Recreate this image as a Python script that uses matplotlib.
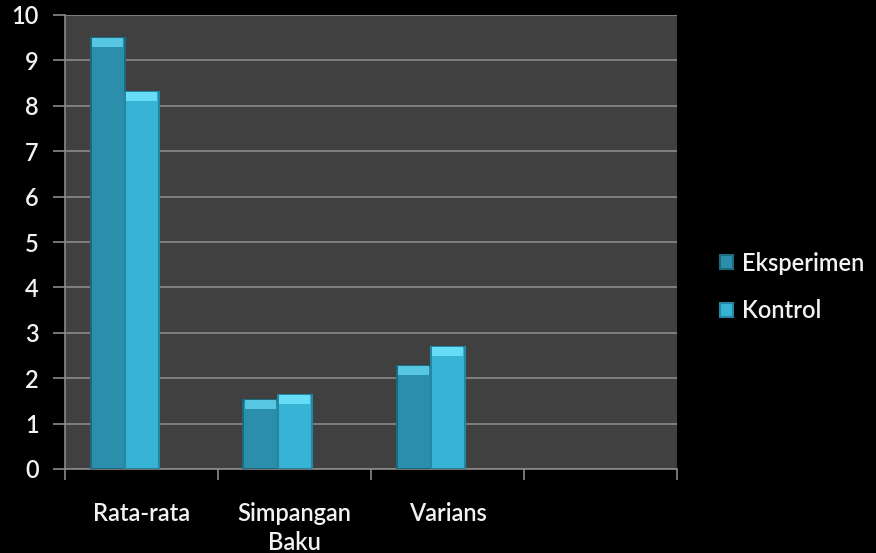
import matplotlib
matplotlib.use("Agg")
import matplotlib.pyplot as plt
import numpy as np

categories = ["Rata-rata", "Simpangan\nBaku", "Varians", ""]
series_names = ["Eksperimen", "Kontrol"]
eksperimen = [9.5, 1.52, 2.27]
kontrol = [8.3, 1.63, 2.69]
y_ticks = [0, 1, 2, 3, 4, 5, 6, 7, 8, 9, 10]

colors = ["#2b8fab", "#37b3d5"]
edge_colors = ["#1c6a80", "#2486a3"]
top_colors = ["#56c6e3", "#66dcf7"]

plt.rcParams['font.family'] = ['Lato', 'DejaVu Sans']

fig = plt.figure(figsize=(8.76, 5.53), dpi=100, facecolor="black")
ax = fig.add_axes([65/876, 84/553, 612/876, 454/553])
ax.set_facecolor("#404040")

n_cat = len(categories)
slots = 3  # Excel layout reserves 3 series slots, gap width 150%
w = 1.0 / (slots + 1.5)
centers = np.arange(n_cat) + 0.5
cap = 0.2

for i, (vals, col, ec, tc, name) in enumerate(zip([eksperimen, kontrol], colors, edge_colors, top_colors, series_names)):
    xs = centers[:len(vals)] - w + i * w
    ax.bar(xs, vals, width=w, color=col, edgecolor=ec, linewidth=1.5, zorder=3, label=name)
    # top bevel highlight
    ax.bar(xs, [cap] * len(vals), bottom=np.array(vals) - cap, width=w * 0.94,
           color=tc, edgecolor="none", zorder=4)

ax.set_ylim(0, 10)
ax.set_xlim(0, n_cat)
ax.set_yticks(y_ticks)
ax.set_yticklabels([str(v) for v in y_ticks])
ax.yaxis.grid(True, color="#8a8a8a", linewidth=1.2, zorder=1)
ax.set_axisbelow(True)

ax.set_xticks(centers)
ax.set_xticklabels(categories, linespacing=1.3)
ax.set_xticks(np.arange(n_cat + 1), minor=True)
ax.tick_params(axis="x", which="major", length=0, pad=24, labelsize=17, labelcolor="#f2f2f2")
ax.tick_params(axis="x", which="minor", length=8, width=1.2, color="#8a8a8a")
ax.tick_params(axis="y", length=9, width=1.2, color="#8a8a8a", pad=10, labelsize=17, labelcolor="#f2f2f2")
for lab in ax.get_xticklabels() + ax.get_yticklabels():
    lab.set_fontweight("semibold")

for s in ["top", "right"]:
    ax.spines[s].set_visible(False)
for s in ["left", "bottom"]:
    ax.spines[s].set_color("#8a8a8a")
    ax.spines[s].set_linewidth(1.2)

handles, labels = ax.get_legend_handles_labels()
leg = fig.legend(handles, labels, loc="center left", bbox_to_anchor=(699/876, 1 - 287/553),
                 frameon=False, prop={"size": 17, "weight": "semibold"},
                 handlelength=0.55, handleheight=0.55,
                 handletextpad=0.35, labelspacing=1.05, labelcolor="#f2f2f2")

fig.savefig("out.png", dpi=100, facecolor="black")
